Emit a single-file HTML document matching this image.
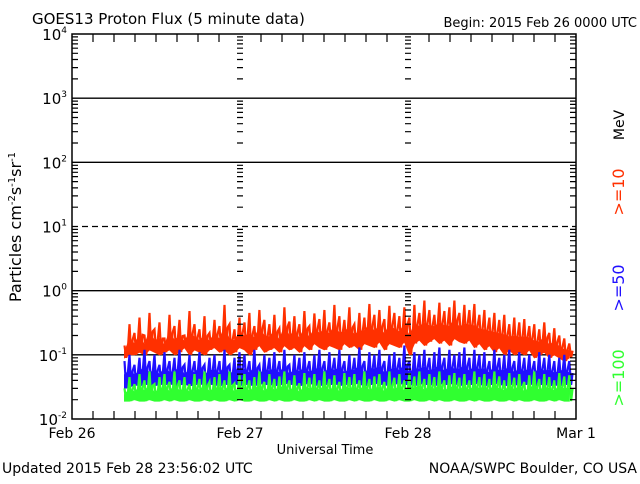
<!DOCTYPE html>
<html><head><meta charset="utf-8"><style>
body{margin:0;background:#fff;width:640px;height:480px;overflow:hidden;font-family:"DejaVu Sans","Liberation Sans",sans-serif}
svg text{font-family:"DejaVu Sans","Liberation Sans",sans-serif}
</style></head><body>
<svg id="chart" width="640" height="480" viewBox="0 0 640 480" xmlns="http://www.w3.org/2000/svg">
<rect width="640" height="480" fill="#fff"/>
<g id="grid"></g><g id="series"></g><g id="frame"></g>
<text x="32" y="24" font-size="15">GOES13 Proton Flux (5 minute data)</text>
<text x="637" y="27" font-size="13" text-anchor="end">Begin: 2015 Feb 26 0000 UTC</text>
<text transform="translate(21,227) rotate(-90)" font-size="16" text-anchor="middle">Particles cm<tspan dy="-6" font-size="10">-2</tspan><tspan dy="6">s</tspan><tspan dy="-6" font-size="10">-1</tspan><tspan dy="6">sr</tspan><tspan dy="-6" font-size="10">-1</tspan></text>
<text transform="translate(624,125) rotate(-90)" font-size="14" text-anchor="middle">MeV</text>
<text transform="translate(624,192) rotate(-90)" font-size="16" fill="#ff3000" text-anchor="middle">&gt;=10</text>
<text transform="translate(624,288) rotate(-90)" font-size="16" fill="#2010ff" text-anchor="middle">&gt;=50</text>
<text transform="translate(624,378) rotate(-90)" font-size="16" fill="#30ff30" text-anchor="middle">&gt;=100</text>
<text x="325" y="454" font-size="13" text-anchor="middle">Universal Time</text>
<text x="2" y="473" font-size="14">Updated 2015 Feb 28 23:56:02 UTC</text>
<text x="637" y="473" font-size="14" text-anchor="end">NOAA/SWPC Boulder, CO USA</text>
</svg>
<script>
const dayLabels=["Feb 26","Feb 27","Feb 28","Mar 1"];
const yTickExps=[-2,-1,0,1,2,3,4];
const startHour=7.5, stepHours=0.714;
const redHi=[0.14,0.3,0.22,0.38,0.2,0.45,0.25,0.32,0.18,0.42,0.28,0.35,0.2,0.48,0.3,0.25,0.4,0.22,0.35,0.28,0.6,0.3,0.25,0.38,0.32,0.45,0.28,0.5,0.35,0.3,0.42,0.26,0.55,0.33,0.4,0.3,0.48,0.28,0.44,0.36,0.5,0.32,0.6,0.4,0.35,0.55,0.3,0.45,0.38,0.62,0.42,0.5,0.36,0.58,0.45,0.4,0.55,0.38,0.6,0.45,0.7,0.5,0.42,0.65,0.48,0.55,0.7,0.45,0.6,0.5,0.62,0.42,0.5,0.38,0.45,0.35,0.42,0.3,0.38,0.32,0.36,0.28,0.3,0.25,0.32,0.22,0.26,0.2,0.18,0.15];
const redLo=[0.09,0.1,0.1,0.11,0.1,0.12,0.11,0.1,0.11,0.12,0.1,0.11,0.13,0.1,0.12,0.11,0.1,0.12,0.13,0.11,0.12,0.1,0.11,0.13,0.12,0.1,0.12,0.14,0.11,0.12,0.13,0.11,0.14,0.12,0.13,0.11,0.14,0.12,0.15,0.13,0.12,0.14,0.13,0.12,0.15,0.13,0.14,0.12,0.15,0.14,0.13,0.16,0.12,0.15,0.14,0.13,0.16,0.1,0.15,0.17,0.14,0.16,0.18,0.15,0.17,0.14,0.18,0.16,0.15,0.17,0.13,0.15,0.12,0.14,0.11,0.13,0.1,0.12,0.1,0.11,0.1,0.12,0.09,0.1,0.11,0.09,0.1,0.09,0.08,0.09];
const blueHi=[0.08,0.1,0.07,0.09,0.12,0.08,0.1,0.07,0.11,0.08,0.09,0.12,0.07,0.1,0.08,0.11,0.07,0.09,0.1,0.08,0.12,0.07,0.09,0.11,0.1,0.08,0.12,0.07,0.1,0.09,0.11,0.08,0.12,0.07,0.1,0.09,0.11,0.08,0.1,0.12,0.08,0.11,0.09,0.12,0.08,0.1,0.09,0.13,0.08,0.11,0.1,0.12,0.08,0.1,0.11,0.09,0.14,0.08,0.11,0.1,0.12,0.09,0.11,0.13,0.09,0.12,0.1,0.11,0.13,0.09,0.12,0.1,0.11,0.08,0.12,0.09,0.1,0.12,0.08,0.11,0.09,0.1,0.08,0.11,0.09,0.1,0.08,0.09,0.1,0.08];
const blueLo=[0.03,0.032,0.034,0.033,0.035,0.034,0.033,0.035,0.034,0.036,0.033,0.034,0.035,0.033,0.034,0.036,0.033,0.035,0.034,0.033,0.035,0.034,0.036,0.033,0.035,0.034,0.033,0.036,0.034,0.035,0.033,0.034,0.036,0.035,0.034,0.033,0.035,0.036,0.034,0.033,0.035,0.034,0.036,0.033,0.035,0.034,0.036,0.035,0.033,0.034,0.036,0.035,0.034,0.033,0.035,0.036,0.034,0.035,0.033,0.036,0.034,0.035,0.033,0.036,0.034,0.035,0.036,0.033,0.035,0.034,0.036,0.035,0.033,0.034,0.036,0.035,0.033,0.034,0.035,0.033,0.034,0.036,0.033,0.034,0.035,0.033,0.034,0.033,0.035,0.034];
const greenHi=[0.03,0.045,0.035,0.05,0.04,0.055,0.035,0.045,0.05,0.038,0.055,0.04,0.045,0.035,0.05,0.042,0.055,0.038,0.045,0.05,0.04,0.055,0.036,0.048,0.05,0.04,0.045,0.055,0.038,0.05,0.042,0.046,0.055,0.04,0.048,0.036,0.052,0.044,0.05,0.04,0.055,0.042,0.048,0.038,0.052,0.045,0.05,0.04,0.055,0.042,0.046,0.05,0.038,0.055,0.044,0.05,0.04,0.052,0.046,0.055,0.042,0.05,0.045,0.055,0.04,0.048,0.052,0.044,0.05,0.04,0.055,0.045,0.05,0.042,0.055,0.046,0.04,0.052,0.044,0.05,0.038,0.048,0.055,0.042,0.05,0.045,0.04,0.052,0.046,0.048];
const greenLo=[0.019,0.019,0.02,0.019,0.019,0.02,0.019,0.019,0.02,0.019,0.02,0.019,0.019,0.02,0.019,0.019,0.02,0.019,0.02,0.019,0.019,0.02,0.019,0.02,0.019,0.019,0.02,0.019,0.019,0.02,0.019,0.02,0.019,0.019,0.02,0.019,0.019,0.02,0.019,0.02,0.019,0.019,0.02,0.019,0.019,0.02,0.019,0.02,0.019,0.019,0.02,0.019,0.019,0.02,0.019,0.02,0.019,0.019,0.02,0.019,0.019,0.02,0.019,0.02,0.019,0.019,0.02,0.019,0.019,0.02,0.019,0.02,0.019,0.019,0.02,0.019,0.019,0.02,0.019,0.02,0.019,0.019,0.02,0.019,0.019,0.02,0.019,0.02,0.019,0.019];

const NS="http://www.w3.org/2000/svg";
const L=72,R=576,T=34,B=419;
const xScale=h=>L+(R-L)*h/72;
const yScale=v=>B-(Math.log10(v)+2)*(B-T)/6;
function mk(tag,attrs,parent){const e=document.createElementNS(NS,tag);for(const k in attrs)e.setAttribute(k,attrs[k]);document.getElementById(parent).appendChild(e);return e;}

yTickExps.forEach(ex=>{
  if(ex===-2||ex===4)return;
  const y=yScale(Math.pow(10,ex));
  const g=mk('line',{x1:L,x2:R,y1:y,y2:y,stroke:'#000','stroke-width':1.3,'stroke-dasharray':ex===1?'6,4':'none'},'grid');
  
  
});
function drawSeries(hi,lo,color,name){
  const n=hi.length;
  // body band: geometric midpoint between lo and hi gives a solid core
  let up=[],dn=[];
  for(let i=0;i<n;i++){
    const x=xScale(startHour+i*stepHours).toFixed(1);
    up.push(x+','+yScale(Math.sqrt(hi[i]*lo[i])).toFixed(1));
    dn.unshift(x+','+yScale(lo[i]).toFixed(1));
  }
  const band=mk('polygon',{points:up.concat(dn).join(' '),fill:color,stroke:color,'stroke-width':1},'series');
  
  
  let pts=[];
  for(let i=0;i<n;i++){
    const h=startHour+i*stepHours;
    pts.push(xScale(h).toFixed(1)+','+yScale(hi[i]).toFixed(1));
    pts.push(xScale(h+stepHours*0.35).toFixed(1)+','+yScale(lo[i]).toFixed(1));
    pts.push(xScale(h+stepHours*0.65).toFixed(1)+','+yScale(Math.sqrt(hi[i]*lo[i])).toFixed(1));
  }
  const p=mk('polyline',{points:pts.join(' '),fill:'none',stroke:color,'stroke-width':2.2},'series');
  
  
}
drawSeries(redHi,redLo,'#ff3000','series-ge10');
drawSeries(blueHi,blueLo,'#2010ff','series-ge50');
drawSeries(greenHi,greenLo,'#30ff30','series-ge100');

const fr=mk('rect',{x:L,y:T,width:R-L,height:B-T,fill:'none',stroke:'#000','stroke-width':1.5},'frame');


let d='';
for(let ex=-2;ex<4;ex++){
  for(let m=2;m<10;m++){
    const y=yScale(m*Math.pow(10,ex)).toFixed(1);
    d+=`M${L},${y}h6M${R},${y}h-6`;
    [1,2].forEach(k=>{const x=xScale(24*k);d+=`M${x-3},${y}h6`;});
  }
}
for(let h=3;h<72;h+=3){const x=xScale(h).toFixed(1);const len=(h%24===0)?0:8;d+=`M${x},${B}v-${len}M${x},${T}v${len}`;}
const tk=mk('path',{d:d,stroke:'#000','stroke-width':1.2,fill:'none'},'frame');


yTickExps.forEach(ex=>{
  const y=yScale(Math.pow(10,ex));
  const t=mk('text',{x:L-5,y:y+6,'font-size':15,'text-anchor':'end'},'frame');
  
  
  t.innerHTML='10<tspan dy="-7" font-size="9">'+ex+'</tspan>';
});
dayLabels.forEach((lab,i)=>{
  const t=mk('text',{x:xScale(24*i),y:438,'font-size':14,'text-anchor':'middle'},'frame');
  
  
  t.textContent=lab;
});
</script>
</body></html>
